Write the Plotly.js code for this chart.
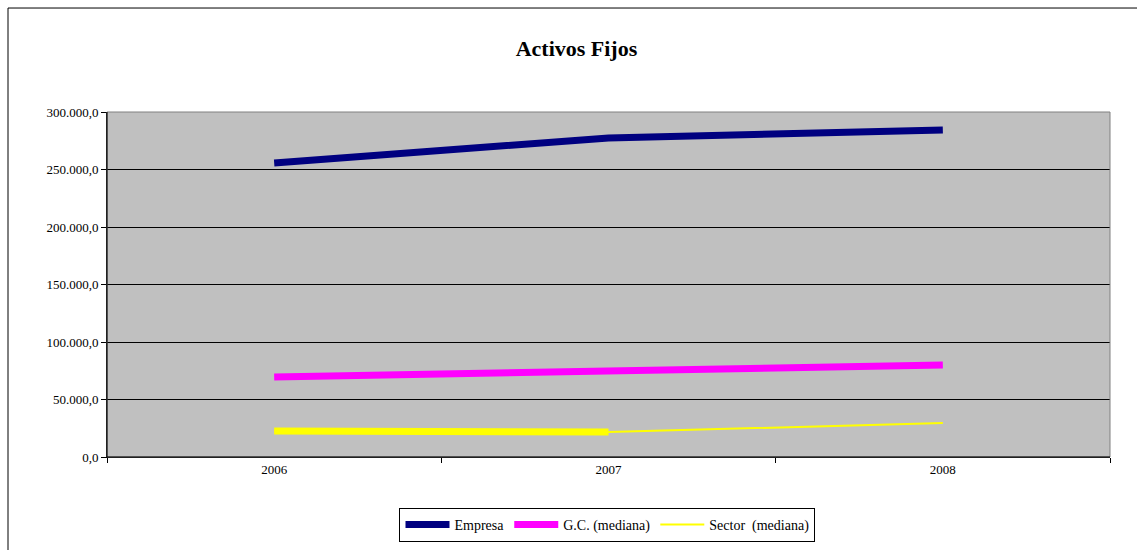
<!DOCTYPE html>
<html>
<head>
<meta charset="utf-8">
<script src="https://cdn.plot.ly/plotly-3.0.1.min.js"></script>
<style>
html,body{margin:0;padding:0;background:#fff;}
#chart{width:1137px;height:550px;}
</style>
</head>
<body>
<div id="chart"></div>
<script>
const years = ["2006", "2007", "2008"];
const empresa = [255700, 277400, 284300];
const gcMediana = [69600, 74800, 80000];
const sectorMediana = [22600, 21700, 29600];
const seriesNames = ["Empresa", "G.C. (mediana)", "Sector  (mediana)"];

const font = "Liberation Serif";

const traces = [
  {x: years, y: empresa, name: seriesNames[0], type: "scatter", mode: "lines",
   line: {color: "#000080", width: 7}},
  {x: years, y: gcMediana, name: seriesNames[1], type: "scatter", mode: "lines",
   line: {color: "#ff00ff", width: 7}},
  {x: years, y: sectorMediana, name: seriesNames[2], type: "scatter", mode: "lines",
   line: {color: "#ffff00", width: 2}},
  {x: years.slice(0, 2), y: sectorMediana.slice(0, 2), name: seriesNames[2], type: "scatter", mode: "lines",
   line: {color: "#ffff00", width: 7}, showlegend: false}
];

const layout = {
  width: 1137, height: 550,
  margin: {l: 107, r: 27, t: 112, b: 93, autoexpand: false},
  paper_bgcolor: "#ffffff",
  plot_bgcolor: "#c0c0c0",
  separators: ",.",
  font: {family: font, size: 13, color: "#000"},
  title: {text: "<b>Activos Fijos</b>", font: {family: font, size: 22, color: "#000"},
          x: 0.507, xref: "container", xanchor: "center", y: 0.912, yref: "container", yanchor: "middle"},
  xaxis: {type: "category", range: [-0.5, 2.5], showgrid: false, zeroline: false,
          showline: true, linecolor: "#000", linewidth: 1,
          ticks: "outside", tickson: "boundaries", ticklen: 5, tickcolor: "#000",
          tickfont: {family: font, size: 13}, fixedrange: true},
  yaxis: {range: [0, 300000], tickvals: [0, 50000, 100000, 150000, 200000, 250000, 300000],
          tickformat: ",.1f", showgrid: true, gridcolor: "#000", gridwidth: 1, zeroline: false,
          showline: true, linecolor: "#000", linewidth: 1,
          ticks: "outside", ticklen: 5, tickcolor: "#000",
          tickfont: {family: font, size: 13}, fixedrange: true},
  showlegend: true,
  legend: {orientation: "h", x: 0.499, xanchor: "center", y: -0.197, yanchor: "middle",
           bgcolor: "#fff", bordercolor: "#000", borderwidth: 1, itemwidth: 44,
           font: {family: font, size: 14}, traceorder: "normal"},
  shapes: [
    {type: "rect", xref: "paper", yref: "paper", x0: 0, x1: 1, y0: 0, y1: 1,
     line: {color: "#808080", width: 1}, layer: "above"},
    {type: "line", xref: "paper", yref: "paper", x0: 0, x1: 0, y0: 0, y1: 1,
     line: {color: "#000", width: 1}},
    {type: "line", xref: "paper", yref: "paper", x0: 0, x1: 1, y0: 0, y1: 0,
     line: {color: "#000", width: 1}},
    {type: "line", xref: "paper", yref: "paper", x0: -0.0987, x1: -0.0987, y0: -0.3, y1: 1.3014,
     line: {color: "#000", width: 1}},
    {type: "line", xref: "paper", yref: "paper", x0: -0.0987, x1: 1.03, y0: 1.3014, y1: 1.3014,
     line: {color: "#000", width: 1}}
  ]
};

Plotly.newPlot("chart", traces, layout, {displayModeBar: false, staticPlot: true});
</script>
</body>
</html>
